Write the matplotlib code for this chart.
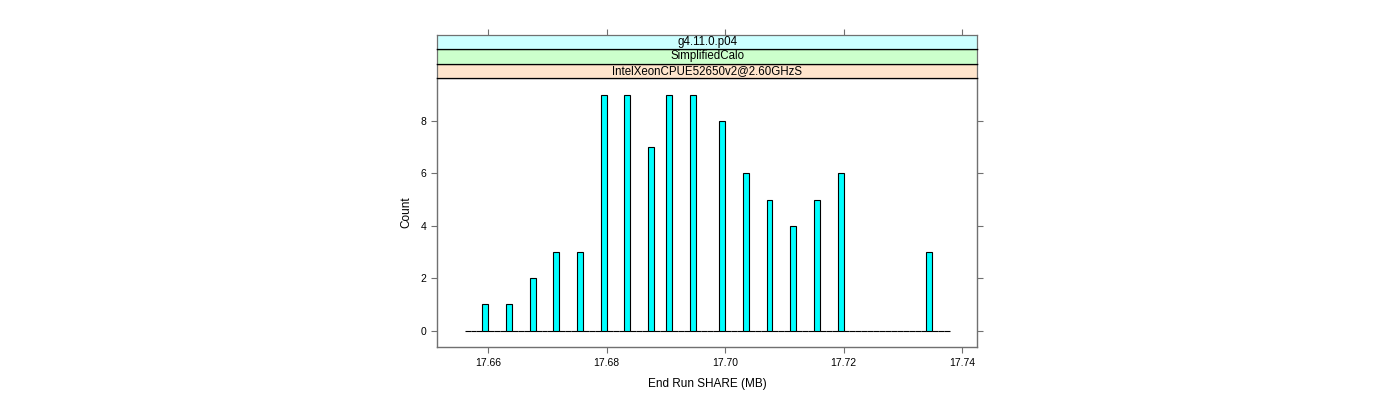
import numpy as np
import matplotlib.pyplot as plt

# histogram data (End Run SHARE in MB, bin width 0.001)
share_mb = [17.6595, 17.6635, 17.6675, 17.6715, 17.6755, 17.6795, 17.6835, 17.6875,
            17.6905, 17.6945, 17.6995, 17.7035, 17.7075, 17.7115, 17.7155, 17.7195, 17.7345]
counts = [1, 1, 2, 3, 3, 9, 9, 7, 9, 9, 8, 6, 5, 4, 5, 6, 3]
bin_start = 17.656
bin_width = 0.001
n_bins = 82
xticks = [17.66, 17.68, 17.70, 17.72, 17.74]
yticks = [0, 2, 4, 6, 8]
strips = ["IntelXeonCPUE52650v2@2.60GHzS", "SimplifiedCalo", "g4.11.0.p04"]
strip_colors = ["#ffe5cc", "#ccffcc", "#ccffff"]

plt.rcParams['font.family'] = ['Liberation Sans', 'DejaVu Sans']
frame_col = "#707070"

fig = plt.figure(figsize=(14, 4), dpi=100)
ax = fig.add_axes([0.3124, 0.1318, 0.3853, 0.6732])

breaks = bin_start + bin_width * np.arange(n_bins + 1)
ax.hist(share_mb, bins=breaks, weights=counts, color="#00ffff",
        edgecolor="black", linewidth=0.8)

ax.set_xlim(17.6514, 17.7425)
ax.set_ylim(-0.63, 9.63)
ax.set_xticks(xticks)
ax.set_xticklabels(["%.2f" % t for t in xticks])
ax.set_yticks(yticks)
ax.tick_params(axis='both', direction='out', length=4.5, width=0.8, color=frame_col,
               labelsize=7.5, pad=3.5, right=True)
for s in ax.spines.values():
    s.set_color(frame_col)
    s.set_linewidth(1.0)
ax.set_xlabel("End Run SHARE (MB)", fontsize=8.5, labelpad=7)
ax.set_ylabel("Count", fontsize=8.5, labelpad=6)

# strips above the panel
h = 0.03625
for i, (lab, col) in enumerate(zip(strips, strip_colors)):
    sax = fig.add_axes([0.3124, 0.805 + i * h, 0.3853, h])
    sax.set_facecolor(col)
    sax.set_xlim(ax.get_xlim())
    sax.set_yticks([])
    for name, s in sax.spines.items():
        s.set_color(frame_col if name in ("left", "right") else "black")
        s.set_linewidth(0.9)
    if i == len(strips) - 1:
        sax.spines["top"].set_color(frame_col)
        sax.set_xticks(xticks)
        sax.tick_params(axis='x', direction='out', length=4.5, width=0.8, color=frame_col,
                        bottom=False, top=True, labelbottom=False)
    else:
        sax.set_xticks([])
    sax.text(0.5, 0.5, lab, transform=sax.transAxes, ha='center', va='center', fontsize=8.3)

fig.savefig("out.png", dpi=100)
